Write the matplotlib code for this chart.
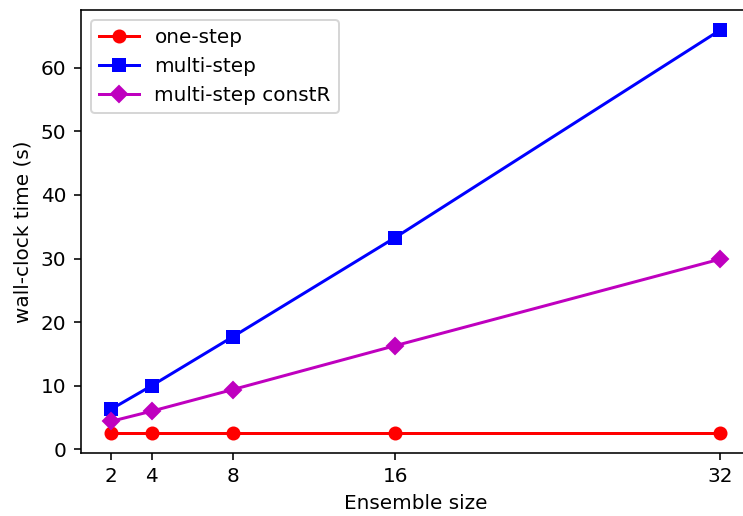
import matplotlib
matplotlib.use("Agg")
import matplotlib.pyplot as plt

ensemble = [2, 4, 8, 16, 32]
one_step = [2.55, 2.55, 2.55, 2.55, 2.55]
multi_step = [6.3, 10.0, 17.7, 33.3, 65.9]
multi_constR = [4.4, 6.0, 9.4, 16.3, 29.9]

DPI = 144
fig = plt.figure(figsize=(743/DPI, 516/DPI), dpi=DPI)
ax = fig.add_axes([80.5/743, 1-453.3/516, (750.5-80.5)/743, (453.3-10)/516])
ax.plot(ensemble, one_step, 'r-o', label='one-step')
ax.plot(ensemble, multi_step, 'b-s', label='multi-step')
ax.plot(ensemble, multi_constR, 'm-D', label='multi-step constR')
ax.set_xticks(ensemble)
ax.set_xlabel('Ensemble size')
ax.set_ylabel('wall-clock time (s)')
ax.legend(loc='upper left')
fig.savefig('out.png', dpi=DPI)
